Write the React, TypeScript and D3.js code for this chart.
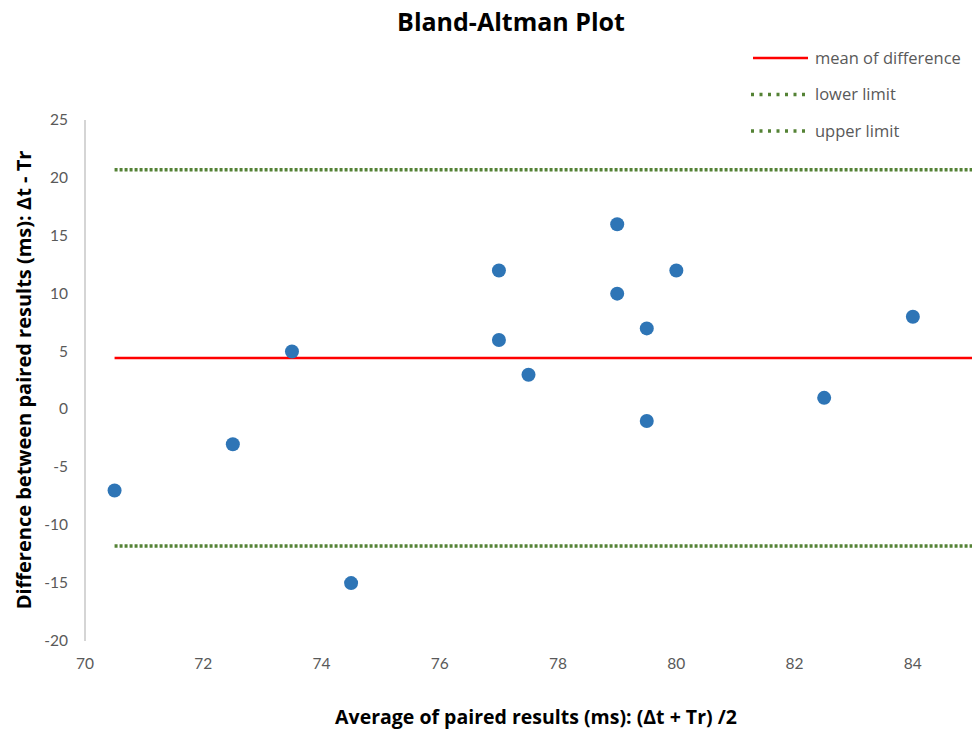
import React from 'react';
import * as d3 from 'd3';

// paired measurements: average (x) and difference (y)
const averages = [70.5, 72.5, 73.5, 74.5, 77, 77, 77.5, 79, 79, 79.5, 79.5, 80, 82.5, 84];
const differences = [-7, -3, 5, -15, 12, 6, 3, 16, 10, 7, -1, 12, 1, 8];

const meanDiff = 4.45;
const lowerLimit = -11.8;
const upperLimit = 20.7;

const xTicks = [70, 72, 74, 76, 78, 80, 82, 84];
const yTicks = [-20, -15, -10, -5, 0, 5, 10, 15, 20, 25];

const legendItems = [
  { label: 'mean of difference', kind: 'mean' },
  { label: 'lower limit', kind: 'limit' },
  { label: 'upper limit', kind: 'limit' },
];

const W = 976;
const H = 731;
const font = '"Open Sans", Lato, sans-serif';
const tickFont = 'Lato, "Open Sans", sans-serif';
const red = '#ff0000';
const green = '#548235';

const App = () => {
  const x = d3.scaleLinear().domain([70, 85]).range([85, 972]);
  const y = d3.scaleLinear().domain([-20, 25]).range([641, 120]);

  const lineStart = x(70.5);
  const lineEnd = x(85);

  return (
    <svg width={W} height={H} style={{ position: 'absolute', left: 0, top: 0, background: '#fff' }}>
      <text x={511} y={31} textAnchor="middle" fontFamily={font} fontWeight="bold" fontSize={25} fill="#000">
        Bland-Altman Plot
      </text>

      {/* y axis line */}
      <line x1={x(70)} x2={x(70)} y1={y(25)} y2={y(-20)} stroke="#bfbfbf" strokeWidth={1.3} />

      {yTicks.map((t) => (
        <text key={t} x={68} y={y(t) + 5} textAnchor="end" fontFamily={tickFont} fontSize={15.5} fill="#595959">
          {t}
        </text>
      ))}
      {xTicks.map((t) => (
        <text key={t} x={x(t)} y={669} textAnchor="middle" fontFamily={tickFont} fontSize={15.5} fill="#595959">
          {t}
        </text>
      ))}

      {/* reference lines */}
      <line x1={lineStart} x2={lineEnd} y1={y(upperLimit)} y2={y(upperLimit)} stroke={green} strokeWidth={3.5} strokeDasharray="3 2" />
      <line x1={lineStart} x2={lineEnd} y1={y(lowerLimit)} y2={y(lowerLimit)} stroke={green} strokeWidth={3.5} strokeDasharray="3 2" />
      <line x1={lineStart} x2={lineEnd} y1={y(meanDiff)} y2={y(meanDiff)} stroke={red} strokeWidth={2.5} />

      {averages.map((a, i) => (
        <circle key={i} cx={x(a)} cy={y(differences[i])} r={7} fill="#2e75b6" />
      ))}

      {/* legend */}
      {legendItems.map((d, i) => {
        const ly = 58 + i * 36.5;
        return (
          <g key={d.label}>
            {d.kind === 'mean' ? (
              <line x1={753} x2={808} y1={ly} y2={ly} stroke={red} strokeWidth={2.5} />
            ) : (
              <line x1={751} x2={805} y1={ly} y2={ly} stroke={green} strokeWidth={3.5} strokeDasharray="3 5.5" />
            )}
            <text x={815} y={ly + 5.5} fontFamily={font} fontSize={16.5} fill="#595959">
              {d.label}
            </text>
          </g>
        );
      })}

      {/* axis titles */}
      <text
        transform={`translate(31,${380}) rotate(-90)`}
        textAnchor="middle"
        fontFamily={font}
        fontWeight="bold"
        fontSize={20}
        fill="#000"
      >
        Difference between paired results (ms): Δt - Tr
      </text>
      <text x={536} y={724} textAnchor="middle" fontFamily={font} fontWeight="bold" fontSize={19.5} fill="#000">
        Average of paired results (ms): (Δt + Tr) /2
      </text>
    </svg>
  );
};

export default App;
